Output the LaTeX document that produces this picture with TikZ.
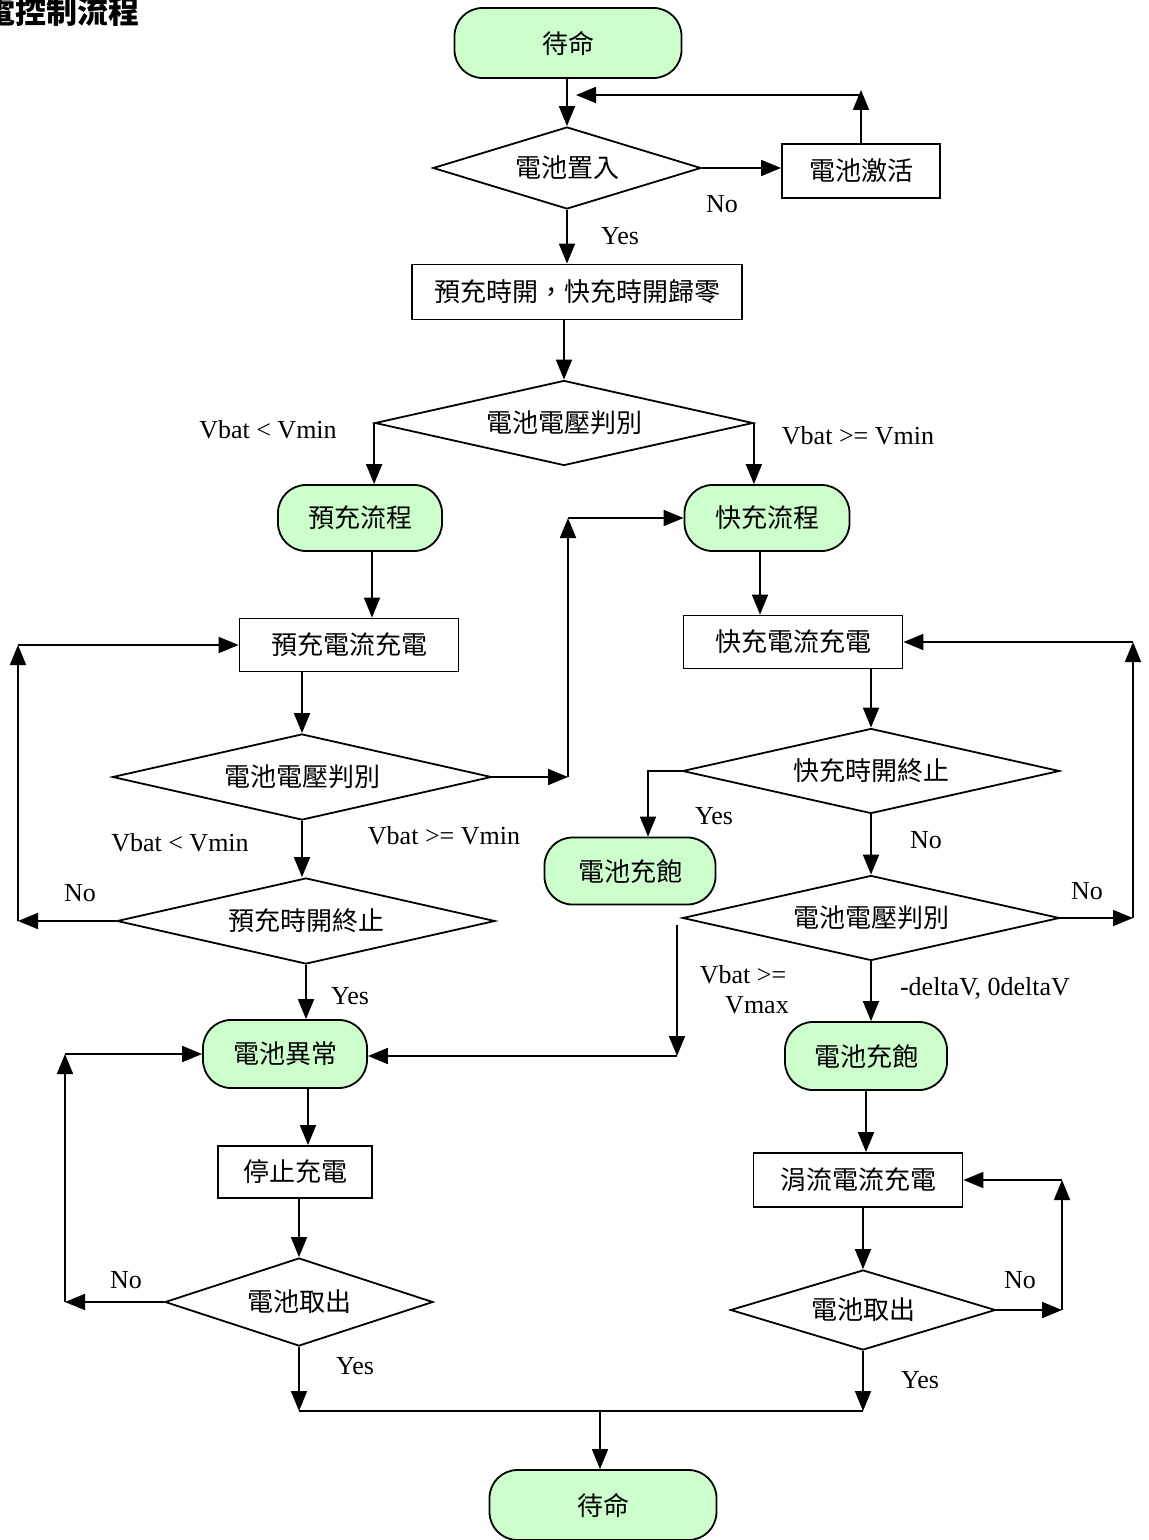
\documentclass[tikz,border=0pt]{standalone}
\usepackage{fontspec}
\newfontfamily\cjk{Noto Sans CJK TC}
\newfontfamily\timesf{Liberation Serif}
\usetikzlibrary{arrows.meta,shapes.geometric}
\definecolor{termgreen}{RGB}{204,255,204}
\tikzset{
  base/.style={font=\cjk\fontsize{13}{15}\selectfont, line width=0.9pt, inner sep=0pt, draw},
  term/.style={base, fill=termgreen, rounded corners=14pt},
  box/.style={base, rectangle},
  dec/.style={base, diamond, aspect=3},
  arr/.style={line width=0.9pt, -{Triangle[length=10pt,width=8pt]}},
  plain/.style={line width=0.9pt},
  lab/.style={font=\timesf\fontsize{13}{15}\selectfont, inner sep=0pt},
}
\begin{document}
\begin{tikzpicture}[x=0.5pt,y=-0.5pt]
\useasboundingbox (0,0) rectangle (1149,1540);
\fill[white] (0,0) rectangle (1149,1540);

% title
\node[anchor=east, font=\cjk\bfseries\fontsize{15.5}{18}\selectfont, inner sep=0pt] (title) at (140,12) {電控制流程};

% nodes
\node[term, minimum width=113.5pt, minimum height=35pt] (start) at (568,43) {待命};
\node[dec, minimum width=134pt, minimum height=41pt] (d1) at (567,168) {電池置入};
\node[box, minimum width=79pt, minimum height=27pt] (act) at (861,171) {電池激活};
\node[box, minimum width=165pt, minimum height=27.5pt] (reset) at (577,292) {預充時開，快充時開歸零};
\node[dec, minimum width=189pt, minimum height=42.5pt] (d2) at (564,423) {電池電壓判別};
\node[term, minimum width=82pt, minimum height=33pt] (pre) at (360,518) {預充流程};
\node[term, minimum width=82.5pt, minimum height=33pt] (fast) at (767,518) {快充流程};
\node[box, minimum width=109.5pt, minimum height=26.5pt] (prebox) at (349,645) {預充電流充電};
\node[dec, minimum width=189.5pt, minimum height=43pt] (d3) at (302,777) {電池電壓判別};
\node[dec, minimum width=189pt, minimum height=43pt] (d4) at (306,921) {預充時開終止};
\node[term, minimum width=82pt, minimum height=34pt] (err) at (285,1054) {電池異常};
\node[box, minimum width=77pt, minimum height=26pt] (stop) at (295,1172) {停止充電};
\node[dec, minimum width=134pt, minimum height=44pt] (d5) at (299,1302) {電池取出};
\node[box, minimum width=109.5pt, minimum height=26.5pt] (fastbox) at (793,642) {快充電流充電};
\node[dec, minimum width=188.5pt, minimum height=42.5pt] (d6) at (871,771) {快充時開終止};
\node[term, minimum width=85.5pt, minimum height=33.5pt] (full1) at (630,871) {電池充飽};
\node[dec, minimum width=188.5pt, minimum height=42.5pt] (d7) at (871,918) {電池電壓判別};
\node[term, minimum width=81pt, minimum height=34pt] (full2) at (866,1056) {電池充飽};
\node[box, minimum width=104.5pt, minimum height=27pt] (trickle) at (858,1180) {涓流電流充電};
\node[dec, minimum width=132.5pt, minimum height=40pt] (d8) at (863,1310) {電池取出};
\node[term, minimum width=113.5pt, minimum height=35pt] (fin) at (603,1505) {待命};

% helper coordinates
\coordinate (c1) at (861,90);
\coordinate (c1b) at (861,95);
\coordinate (c2) at (576,95);
\coordinate (c3) at (568,777);
\coordinate (c5) at (18,920);
\coordinate (c6) at (65,1302);
\coordinate (c7) at (300,1411);
\coordinate (c8) at (866,1411);
\coordinate (c9) at (1133,917);
\coordinate (c10) at (677,925);
\coordinate (c11) at (677,1056);
\coordinate (c12) at (1062,1313);
\coordinate (xA) at (308,0);
\coordinate (xB) at (648,0);
\coordinate (xC) at (372,0);
\coordinate (xD) at (760,0);
\coordinate (xE) at (600,0);

% top
\draw[arr] (start.south -| d1) -- (d1.north);
\draw[arr] (d1.east) -- (d1.east -| act.west);
\draw[arr] (act.north) -- (c1);
\draw[arr] (c1b) -- (c2);
\draw[arr] (d1.south) -- (d1.south |- reset.north);
\draw[arr] (reset.south -| d2) -- (d2.north);
\draw[arr] (d2.west) -- (d2.west |- pre.north);
\draw[arr] (d2.east) -- (d2.east |- fast.north);

% left branch
\draw[arr] (pre.south -| xC) -- (prebox.north -| xC);
\draw[arr] (prebox.south -| d3) -- (d3.north);
\draw[arr] (d3.east) -- (d3.east -| c3);
\draw[arr] (d3.east -| c3) -- (c3 |- fast.west);
\draw[arr] (c3 |- fast.west) -- (fast.west);
\draw[arr] (d3.south) -- (d3.south |- d4.north);
\draw[arr] (d4.west) -- (d4.west -| c5);
\draw[arr] (d4.west -| c5) -- (c5 |- prebox.west);
\draw[arr] (c5 |- prebox.west) -- (prebox.west);
\draw[arr] (d4.south) -- (d4.south |- err.north);
\draw[arr] (err.south -| xA) -- (stop.north -| xA);
\draw[arr] (stop.south -| d5) -- (d5.north);
\draw[arr] (d5.west) -- (d5.west -| c6);
\draw[arr] (d5.west -| c6) -- (c6 |- err.west);
\draw[arr] (c6 |- err.west) -- (err.west);
\draw[arr] (d5.south) -- (d5.south |- c7);

% right branch
\draw[arr] (fast.south -| xD) -- (fastbox.north -| xD);
\draw[arr] (fastbox.south -| d6) -- (d6.north);
\draw[arr] (d6.west) -| (xB |- full1.north);
\draw[arr] (d6.south) -- (d7.north);
\draw[arr] (d7.east) -- (d7.east -| c9);
\draw[arr] (d7.east -| c9) -- (c9 |- fastbox.east);
\draw[arr] (c9 |- fastbox.east) -- (fastbox.east);
\draw[arr] (c10) -- (c11);
\draw[arr] (c11) -- (c11 -| err.east);
\draw[arr] (d7.south) -- (d7.south |- full2.north);
\draw[arr] (full2.south) -- (full2.south |- trickle.north);
\draw[arr] (trickle.south -| d8) -- (d8.north);
\draw[arr] (d8.east) -- (d8.east -| c12);
\draw[arr] (d8.east -| c12) -- (c12 |- trickle.east);
\draw[arr] (c12 |- trickle.east) -- (trickle.east);
\draw[arr] (d8.south) -- (d8.south |- c8);

% join
\draw[plain] (d5.south |- c7) -- (d8.south |- c8);
\draw[arr] (c7 -| xE) -- (fin.north -| xE);

% labels
\node[lab] (l1) at (722,204) {No};
\node[lab] (l2) at (620,236) {Yes};
\node[lab] (l3) at (268,430) {Vbat < Vmin};
\node[lab] (l4) at (858,436) {Vbat >= Vmin};
\node[lab] (l5) at (444,836) {Vbat >= Vmin};
\node[lab] (l6) at (180,843) {Vbat < Vmin};
\node[lab] (l7) at (80,893) {No};
\node[lab] (l8) at (350,996) {Yes};
\node[lab] (l9) at (714,816) {Yes};
\node[lab] (l10) at (926,840) {No};
\node[lab] (l11) at (1087,891) {No};
\node[lab] (l12) at (743,975) {Vbat >=};
\node[lab] (l13) at (757,1005) {Vmax};
\node[lab] (l14) at (985,988) {-deltaV, 0deltaV};
\node[lab] (l15) at (1020,1280) {No};
\node[lab] (l16) at (920,1380) {Yes};
\node[lab] (l17) at (126,1280) {No};
\node[lab] (l18) at (355,1366) {Yes};
\end{tikzpicture}
\end{document}
